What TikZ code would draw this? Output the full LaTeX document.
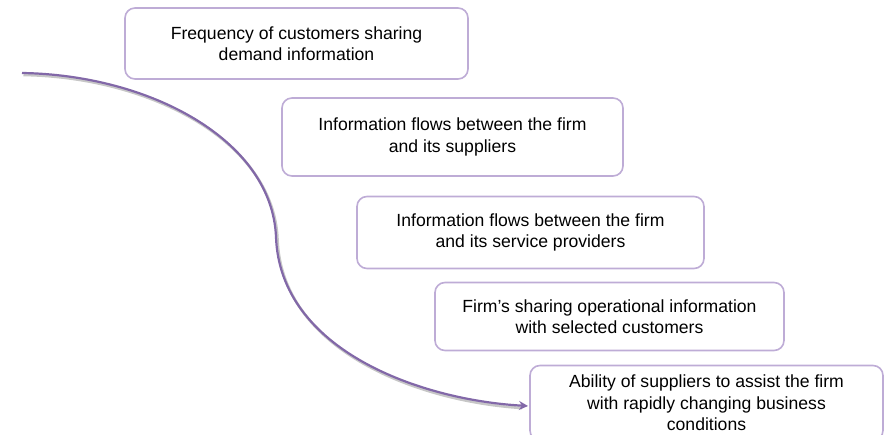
\documentclass[tikz,border=0pt]{standalone}
\usepackage{fontspec}
\setmainfont{Liberation Sans}
\usetikzlibrary{arrows.meta}
\definecolor{boxline}{RGB}{190,172,214}
\definecolor{curveline}{RGB}{130,104,168}
\tikzset{
  itembox/.style={draw=boxline, line width=1.6pt, rounded corners=10pt, fill=white,
    align=center, inner sep=0pt, font=\fontsize{17.6}{21.5}\selectfont, text=black},
  flowcurve/.style={draw=curveline, line width=2.2pt, -{Stealth[length=9pt,width=9pt,inset=3pt]}},
  flowshadow/.style={draw=black!22, line width=2.6pt}
}
\begin{document}
\begin{tikzpicture}[x=1pt,y=-1pt]
\useasboundingbox (0,0) rectangle (888,435);
\node[itembox, minimum width=343pt, minimum height=71pt] (b1) at (296.5,43.5)
  {Frequency of customers sharing\\demand information};
\node[itembox, minimum width=341pt, minimum height=78pt] (b2) at (452.5,137)
  {Information flows between the firm\\and its suppliers};
\node[itembox, minimum width=347pt, minimum height=72pt] (b3) at (530.5,232.5)
  {Information flows between the firm\\and its service providers};
\node[itembox, minimum width=349pt, minimum height=68pt] (b4) at (609.5,316.5)
  {Firm’s sharing operational information\\with selected customers};
\node[itembox, minimum width=353pt, minimum height=75pt] (b5) at (706.5,403)
  {Ability of suppliers to assist the firm\\with rapidly changing business\\conditions};
\coordinate (s) at (22,73);
\coordinate (m) at (276,237);
\coordinate (e) at (528,406);
\draw[flowshadow] ([shift={(1.5,2)}]s) .. controls (151.5,77) and (273.5,142) .. ([shift={(1.5,2)}]m)
  .. controls (281.5,352) and (421.5,402) .. ([shift={(-6,2)}]e);
\draw[flowcurve] (s) .. controls (150,75) and (272,140) .. (m)
  .. controls (280,350) and (420,400) .. (e);
\end{tikzpicture}
\end{document}
